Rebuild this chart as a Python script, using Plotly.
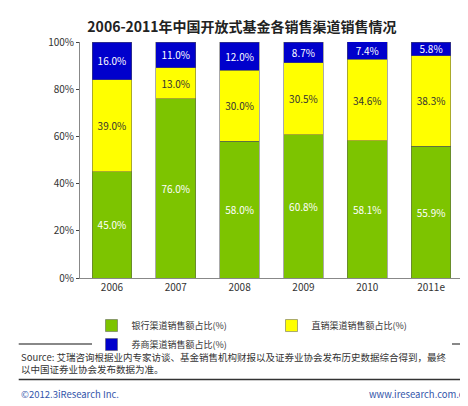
import plotly.graph_objects as go

years = ["2006", "2007", "2008", "2009", "2010", "2011e"]
bank = [45.0, 76.0, 58.0, 60.8, 58.1, 55.9]
direct = [39.0, 13.0, 30.0, 30.5, 34.6, 38.3]
broker = [16.0, 11.0, 12.0, 8.7, 7.4, 5.8]

names = ["银行渠道销售额占比(%)", "直销渠道销售额占比(%)", "券商渠道销售额占比(%)"]
colors = ["#7dc400", "#ffff00", "#0000cc"]
text_colors = ["white", "#333333", "white"]

fig = go.Figure()
for vals, name, col, tc in zip([bank, direct, broker], names, colors, text_colors):
    fig.add_trace(go.Bar(
        x=years, y=vals, name=name, marker=dict(color=col, line=dict(color="#555555", width=0.5)),
        text=[f"{v:.1f}%" for v in vals], textposition="inside", insidetextanchor="middle",
        textfont=dict(color=tc, size=10), constraintext="none",
    ))

fig.update_layout(
    barmode="stack", bargap=0.38, width=468, height=406,
    margin=dict(l=72, r=13, t=34, b=136),
    uniformtext=dict(minsize=10, mode="show"),
    paper_bgcolor="white", plot_bgcolor="white",
    font=dict(family="Noto Sans CJK SC", size=10, color="#333333"),
    title=dict(text="<b>2006-2011年中国开放式基金各销售渠道销售情况</b>", x=0.5, y=0.965,
               xanchor="center", font=dict(size=14, color="#222222")),
    xaxis=dict(showline=True, linecolor="#888888", ticks="", tickfont=dict(size=10)),
    yaxis=dict(range=[0, 100], dtick=20, ticksuffix="%", showgrid=False,
               showline=True, linecolor="#888888", ticks="outside", ticklen=3,
               tickfont=dict(size=10)),
    legend=dict(orientation="h", x=0.5, xanchor="center", y=-0.14, yanchor="top",
                font=dict(size=9), itemwidth=30, entrywidth=135, entrywidthmode="pixels",
                traceorder="normal"),
    shapes=[
        dict(type="line", xref="paper", yref="paper", x0=-0.16, x1=1.02, y0=-0.28, y1=-0.28,
             line=dict(color="#888888", width=2)),
        dict(type="line", xref="paper", yref="paper", x0=-0.16, x1=1.02, y0=-0.43, y1=-0.43,
             line=dict(color="#333333", width=1.5)),
    ],
    annotations=[
        dict(text="Source: 艾瑞咨询根据业内专家访谈、基金销售机构财报以及证券业协会发布历史数据综合得到，最终<br>以中国证券业协会发布数据为准。",
             xref="paper", yref="paper", x=-0.16, y=-0.295, xanchor="left", yanchor="top",
             showarrow=False, align="left", font=dict(size=9.5, color="#333333")),
        dict(text="©2012.3iResearch Inc.", xref="paper", yref="paper", x=-0.16, y=-0.455,
             xanchor="left", yanchor="top", showarrow=False, font=dict(size=9.5, color="#3355aa")),
        dict(text="www.iresearch.com.cn", xref="paper", yref="paper", x=1.02, y=-0.455,
             xanchor="right", yanchor="top", showarrow=False, font=dict(size=9.5, color="#3355aa")),
    ],
)

fig.write_html("out.html")
